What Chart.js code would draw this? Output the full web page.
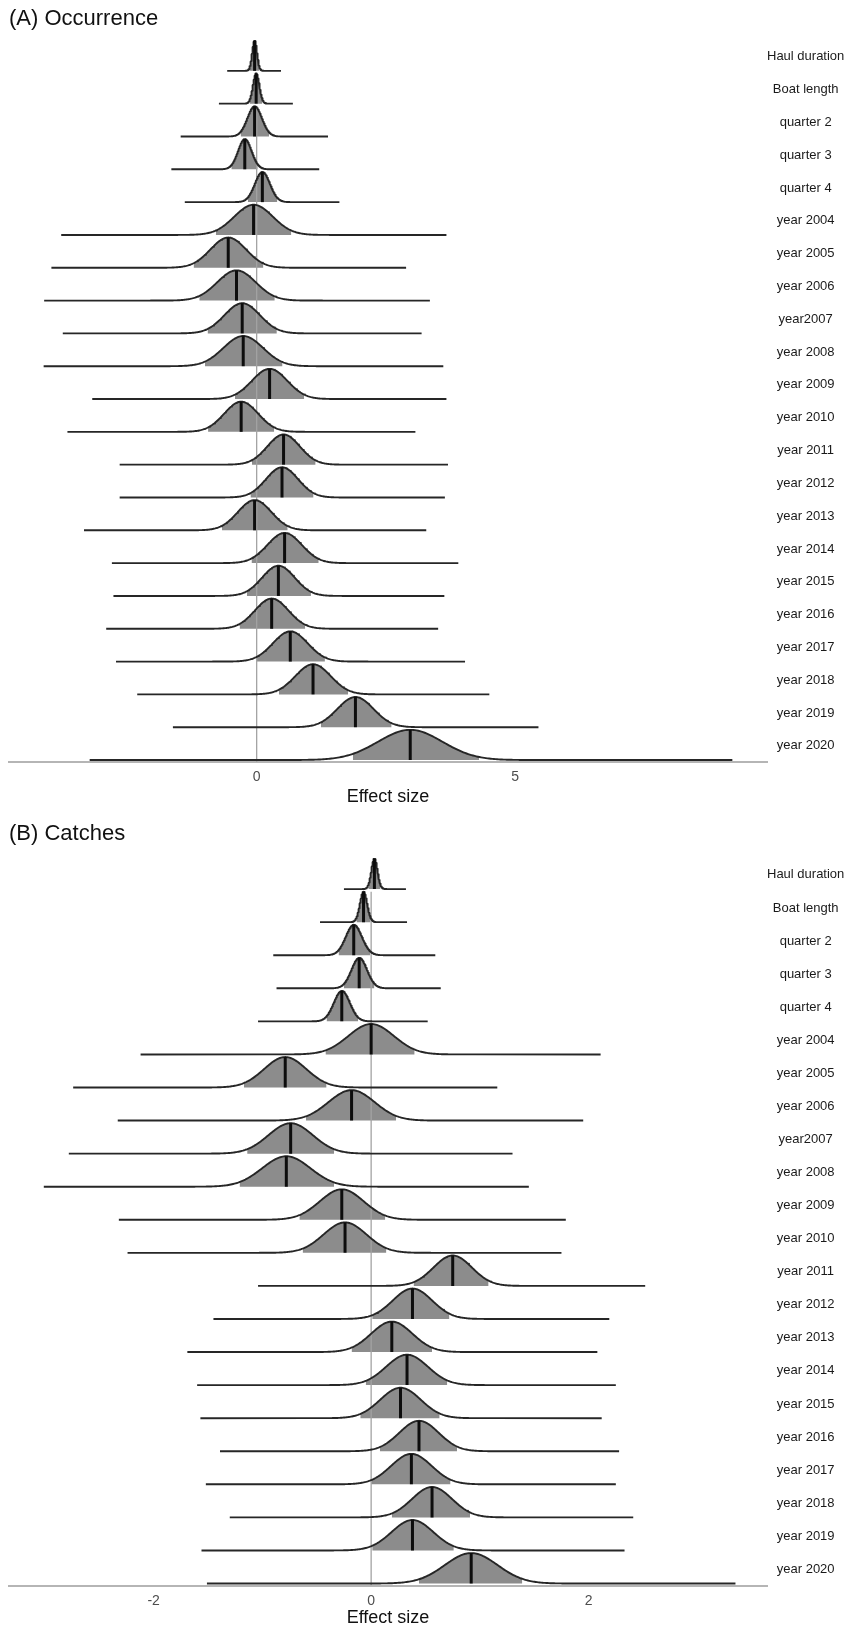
<!DOCTYPE html>
<html><head><meta charset="utf-8">
<script src="https://cdn.jsdelivr.net/npm/chart.js@4.4.1/dist/chart.umd.min.js"></script>
<style>
html,body{margin:0;padding:0;background:#fff;}
#wrap{position:relative;width:867px;height:1629px;background:#fff;}
.box{position:absolute;left:0;width:867px;}
#boxA{top:0;height:815px;}
#boxB{top:815px;height:814px;}
</style></head><body>
<div id="wrap">
<div class="box" id="boxA"><canvas id="cA"></canvas></div>
<div class="box" id="boxB"><canvas id="cB"></canvas></div>
</div>
<script>
// ---- data ----
const rowLabels = ["Haul duration","Boat length","quarter 2","quarter 3","quarter 4",
  "year 2004","year 2005","year 2006","year2007","year 2008","year 2009","year 2010",
  "year 2011","year 2012","year 2013","year 2014","year 2015","year 2016","year 2017",
  "year 2018","year 2019","year 2020"];

// (A) Occurrence: posterior mean, 95% interval, full range
const meanA = [-0.04,-0.01,-0.04,-0.23,0.11,-0.06,-0.55,-0.39,-0.28,-0.26,0.25,-0.30,0.52,0.49,-0.04,0.54,0.42,0.29,0.65,1.09,1.91,2.97];
const loA   = [-0.13,-0.13,-0.31,-0.49,-0.17,-0.79,-1.22,-1.11,-0.95,-1.00,-0.42,-0.94,-0.09,-0.12,-0.67,-0.10,-0.19,-0.33,0.00,0.43,1.24,1.86];
const hiA   = [0.05,0.11,0.24,0.02,0.40,0.67,0.13,0.35,0.39,0.50,0.92,0.34,1.14,1.10,0.60,1.20,1.05,0.94,1.32,1.77,2.61,4.30];
const minA  = [-0.57,-0.73,-1.47,-1.65,-1.39,-3.78,-3.97,-4.11,-3.75,-4.12,-3.18,-3.66,-2.65,-2.65,-3.34,-2.80,-2.77,-2.91,-2.72,-2.31,-1.62,-3.23];
const maxA  = [0.47,0.70,1.38,1.21,1.60,3.67,2.89,3.35,3.19,3.61,3.67,3.07,3.70,3.64,3.28,3.90,3.63,3.51,4.03,4.50,5.45,9.20];
const xTicksA = [0, 5];

// (B) Catches
const meanB = [0.03,-0.07,-0.16,-0.11,-0.27,0.00,-0.79,-0.18,-0.74,-0.78,-0.27,-0.24,0.75,0.38,0.19,0.33,0.27,0.44,0.37,0.56,0.38,0.92];
const loB   = [-0.025,-0.135,-0.30,-0.25,-0.41,-0.42,-1.17,-0.60,-1.14,-1.21,-0.66,-0.63,0.39,0.01,-0.18,-0.05,-0.10,0.08,0.00,0.19,0.01,0.44];
const hiB   = [0.085,-0.005,-0.01,0.03,-0.12,0.40,-0.41,0.23,-0.34,-0.34,0.13,0.14,1.08,0.72,0.56,0.70,0.63,0.79,0.73,0.91,0.76,1.39];
const minB  = [-0.25,-0.47,-0.90,-0.87,-1.04,-2.12,-2.74,-2.33,-2.78,-3.01,-2.32,-2.24,-1.04,-1.45,-1.69,-1.60,-1.57,-1.39,-1.52,-1.30,-1.56,-1.51];
const maxB  = [0.32,0.33,0.59,0.64,0.52,2.11,1.16,1.95,1.30,1.45,1.79,1.75,2.52,2.19,2.08,2.25,2.12,2.28,2.25,2.41,2.33,3.35];
const xTicksB = [-2, 0, 2];

// ---- drawing helpers ----
const N = rowLabels.length;
const PEAK = 0.92;          // ridge height relative to row spacing
const Y_MIN = -0.06, Y_MAX = N - 1 + 0.94;
const LABEL_OFF = 0.43;
const FONT = "'Liberation Sans', Arial, Helvetica, sans-serif";

function dens(x, m, sd) { const z = (x - m) / sd; return Math.exp(-z * z / 2); }

function buildDatasets(mean, lo, hi, mn, mx, zeroTopRow) {
  const ds = [];
  for (let i = 0; i < N; i++) {
    const base = N - 1 - i;
    const m = mean[i], sd = (hi[i] - lo[i]) / 3.92;
    // shaded 95% interval
    const sh = [];
    for (let j = 0; j <= 80; j++) {
      const x = lo[i] + (hi[i] - lo[i]) * j / 80;
      sh.push({x, y: base + PEAK * dens(x, m, sd)});
    }
    ds.push({data: sh, borderWidth: 0, backgroundColor: '#8c8c8c', fill: {value: base}, order: 3, pointRadius: 0});
    // outline with flat tails
    const cv = [{x: mn[i], y: base}];
    for (let k = -4.6; k <= 4.6001; k += 0.05) {
      const x = m + k * sd;
      if (x > mn[i] && x < mx[i]) cv.push({x, y: base + PEAK * dens(x, m, sd)});
    }
    cv.push({x: mx[i], y: base});
    ds.push({data: cv, borderColor: '#262626', borderWidth: 1.9, borderJoinStyle: 'round', borderCapStyle: 'butt',
      fill: false, order: 1, pointRadius: 0});
    // mean line
    ds.push({data: [{x: m, y: base}, {x: m, y: base + PEAK}], borderColor: '#0d0d0d', borderWidth: 3, fill: false, order: 0, pointRadius: 0});
  }
  // zero reference line
  ds.push({data: [{x: 0, y: Y_MIN}, {x: 0, y: N - 1 - zeroTopRow + PEAK}], borderColor: '#a3a3a3', borderWidth: 1.3, fill: false, order: 2, pointRadius: 0});
  return ds;
}

function makeChart(id, title, mean, lo, hi, mn, mx, xmin, xmax, xticks, lay) {
  return new Chart(document.getElementById(id), {
    type: 'line',
    data: {datasets: buildDatasets(mean, lo, hi, mn, mx, lay.zeroTop)},
    options: {
      responsive: true, maintainAspectRatio: false, animation: false,
      devicePixelRatio: 1,
      parsing: false, normalized: true,
      layout: {padding: {left: 9, right: 0, top: 0, bottom: 0}},
      elements: {line: {tension: 0}},
      plugins: {
        legend: {display: false}, tooltip: {enabled: false},
        title: {display: true, text: title, align: 'start', color: '#111',
          font: {family: FONT, size: 22, weight: 'normal'},
          padding: {top: lay.tTop, bottom: lay.tBot}}
      },
      scales: {
        x: {type: 'linear', min: xmin, max: xmax,
          grid: {display: false, drawTicks: false},
          border: {display: true, color: '#b5b5b5', width: 2},
          afterBuildTicks: s => { s.ticks = xticks.map(v => ({value: v})); },
          afterFit: s => { s.height = lay.xH; },
          ticks: {autoSkip: false, padding: 7, color: '#4d4d4d', font: {family: FONT, size: 14},
            callback: v => String(v)},
          title: {display: true, text: 'Effect size', color: '#111',
            font: {family: FONT, size: 18}, padding: {top: 0, bottom: lay.xtBot}}
        },
        y: {type: 'linear', min: Y_MIN, max: Y_MAX, display: false},
        yl: {type: 'linear', position: 'right', min: Y_MIN, max: Y_MAX,
          grid: {display: false, drawTicks: false}, border: {display: false},
          afterBuildTicks: s => { s.ticks = rowLabels.map((_, i) => ({value: N - 1 - i + LABEL_OFF})); },
          afterFit: s => { s.width = 100; },
          ticks: {autoSkip: false, padding: 0, crossAlign: 'center', color: '#1a1a1a',
            font: {family: FONT, size: 13},
            callback: (v) => rowLabels[N - 1 - Math.round(v - LABEL_OFF)]}
        }
      }
    }
  });
}

makeChart('cA', '(A) Occurrence', meanA, loA, hiA, minA, maxA, -4.79, 9.87, xTicksA,
  {tTop: 6, tBot: 7.6, xH: 53, xtBot: 7, zeroTop: 2});
makeChart('cB', '(B) Catches', meanB, loB, hiB, minB, maxB, -3.33, 3.64, xTicksB,
  {tTop: 6, tBot: 10.6, xH: 43.5, xtBot: 0.5, zeroTop: 1});
</script>
</body></html>
